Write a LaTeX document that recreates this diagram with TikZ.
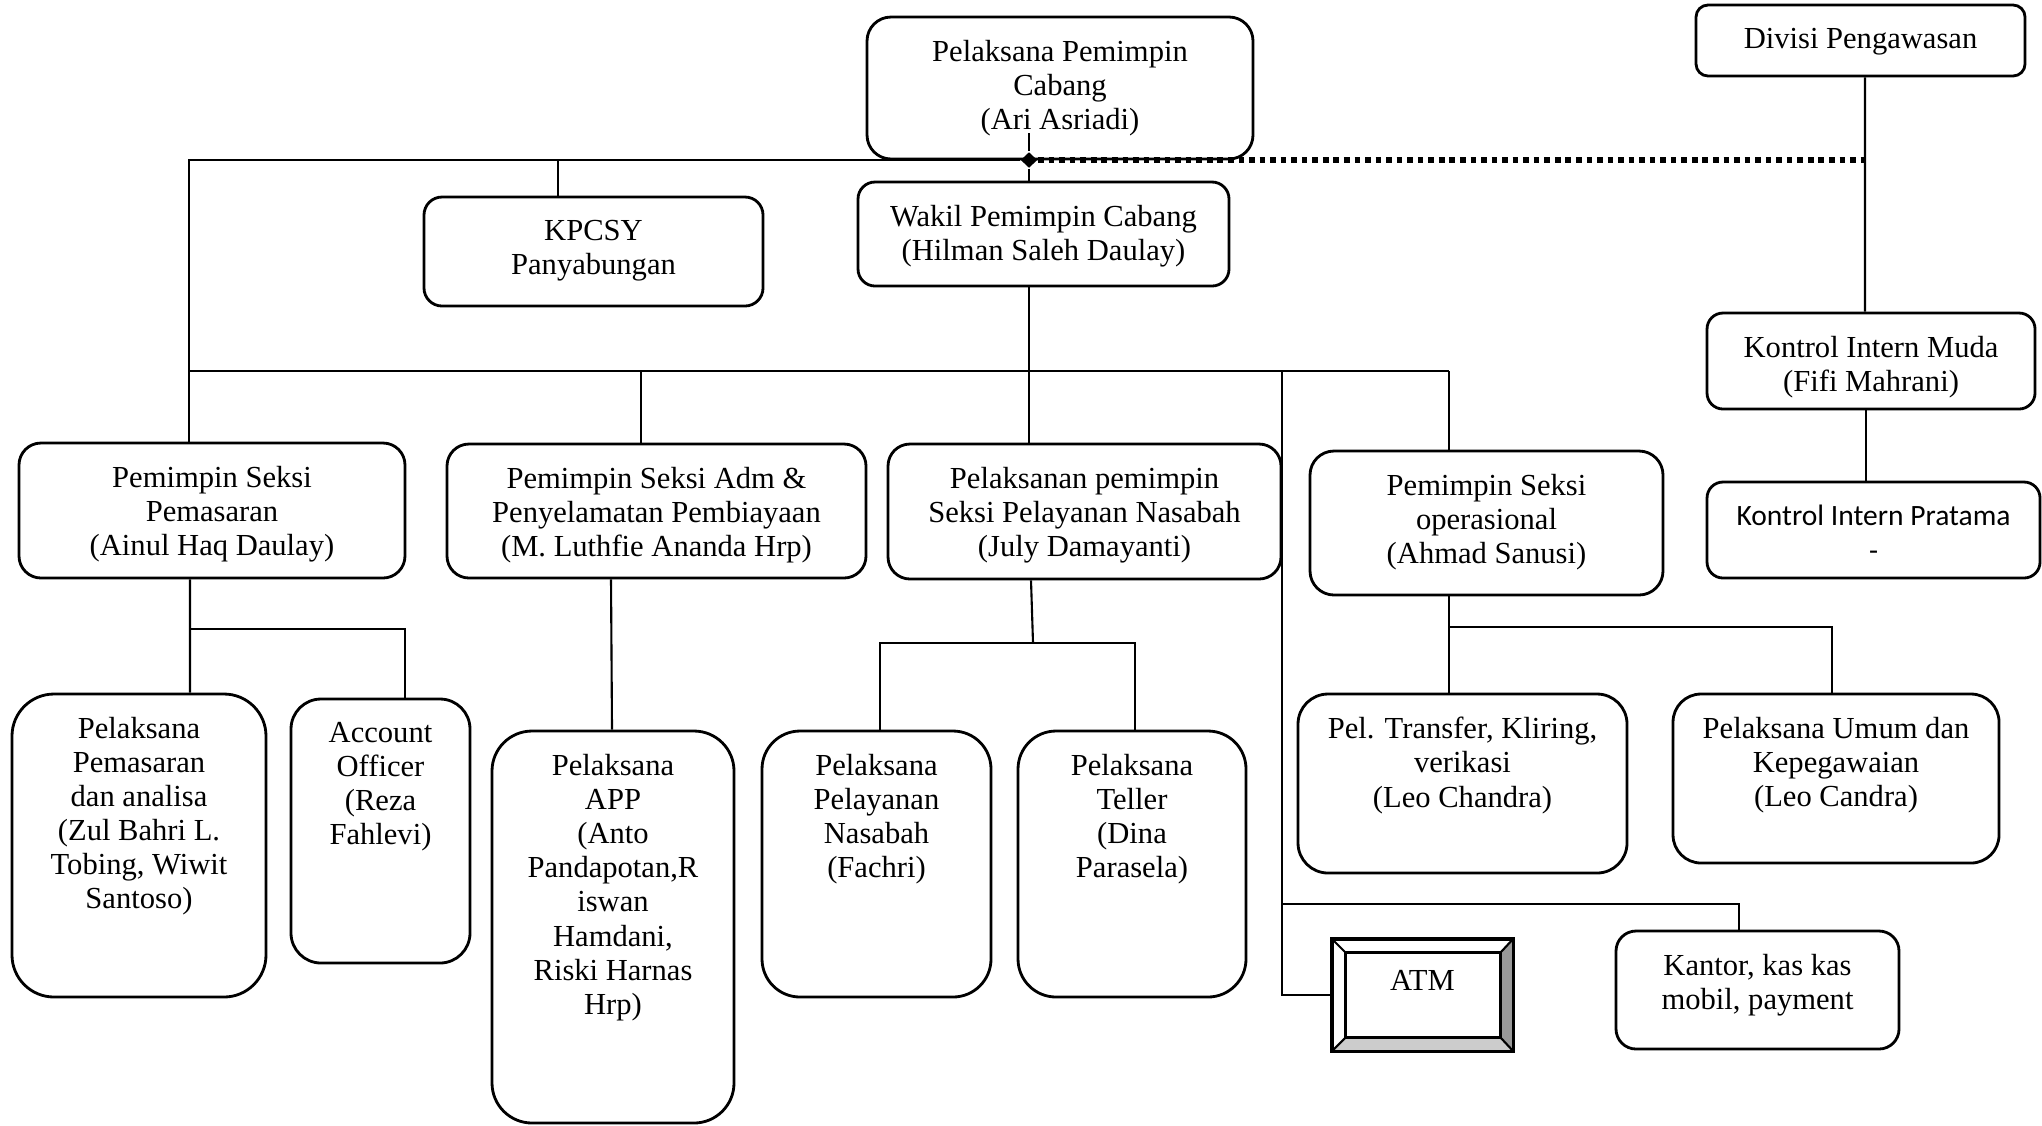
\documentclass[tikz,border=0pt]{standalone}
\usepackage{fontspec}
\setmainfont{Liberation Serif}
\newfontfamily\calfont{Carlito}
\usepackage{tikz}
\usetikzlibrary{shapes.geometric}

\tikzset{
  box/.style={draw, line width=0.8pt, inner sep=0pt, rounded corners=#1},
  box/.default=0.22cm,
  lbl/.style={anchor=north, yshift=-0.24cm, align=center, inner sep=0pt, font=\fontsize{8.7}{9.7}\selectfont},
  conn/.style={line width=0.6pt},
  dotline/.style={line width=1.5pt, dash pattern=on 1.6pt off 1.4pt}
}

\begin{document}
\begin{tikzpicture}
\useasboundingbox (0,0) rectangle (20.42,-11.25);
% top tier
\node[box=0.24cm, minimum width=3.86cm, minimum height=1.42cm, label={[lbl,name=topT]north:Pelaksana Pemimpin\\Cabang\\(Ari Asriadi)}] (top) at (10.60,-0.88) {};
\node[box=0.12cm, minimum width=3.29cm, minimum height=0.71cm, label={[lbl,name=divT]north:Divisi Pengawasan}] (div) at (18.605,-0.405) {};
\node[box=0.18cm, minimum width=3.39cm, minimum height=1.09cm, label={[lbl,name=kpT]north:KPCSY\\Panyabungan}] (kp) at (5.935,-2.515) {};
\node[box=0.17cm, minimum width=3.71cm, minimum height=1.04cm, label={[lbl,name=wakT]north:Wakil Pemimpin Cabang\\(Hilman Saleh Daulay)}] (wak) at (10.435,-2.34) {};
\node[box=0.16cm, minimum width=3.28cm, minimum height=0.96cm, label={[lbl,name=mudaT]north:Kontrol Intern Muda\\(Fifi Mahrani)}] (muda) at (18.71,-3.61) {};
\node[box=0.16cm, minimum width=3.33cm, minimum height=0.96cm, label={[lbl,name=praT,font=\calfont\fontsize{8.4}{10}\selectfont]north:Kontrol Intern Pratama\\-}] (pra) at (18.735,-5.30) {};
% seksi
\node[box, minimum width=3.86cm, minimum height=1.35cm, label={[lbl,name=pemT]north:Pemimpin Seksi\\Pemasaran\\(Ainul Haq Daulay)}] (pem) at (2.12,-5.105) {};
\node[box, minimum width=4.19cm, minimum height=1.34cm, label={[lbl,name=admT]north:Pemimpin Seksi Adm \&\\Penyelamatan Pembiayaan\\(M. Luthfie Ananda Hrp)}] (adm) at (6.565,-5.11) {};
\node[box, minimum width=3.93cm, minimum height=1.35cm, label={[lbl,name=plnT]north:Pelaksanan pemimpin\\Seksi Pelayanan Nasabah\\(July Damayanti)}] (pln) at (10.845,-5.115) {};
\node[box=0.24cm, minimum width=3.53cm, minimum height=1.44cm, label={[lbl,name=opsT]north:Pemimpin Seksi\\operasional\\(Ahmad Sanusi)}] (ops) at (14.865,-5.23) {};
% pelaksana
\node[box=0.42cm, minimum width=2.54cm, minimum height=3.03cm, label={[lbl,name=pelpemT]north:Pelaksana\\Pemasaran\\dan analisa\\(Zul Bahri L.\\Tobing, Wiwit\\Santoso)}] (pelpem) at (1.39,-8.455) {};
\node[box=0.30cm, minimum width=1.79cm, minimum height=2.64cm, label={[lbl,name=aoT]north:Account\\Officer\\(Reza\\Fahlevi)}] (ao) at (3.805,-8.31) {};
\node[box=0.40cm, minimum width=2.42cm, minimum height=3.92cm, label={[lbl,name=appT]north:Pelaksana\\APP\\(Anto\\Pandapotan,R\\iswan\\Hamdani,\\Riski Harnas\\Hrp)}] (app) at (6.13,-9.27) {};
\node[box=0.38cm, minimum width=2.29cm, minimum height=2.66cm, label={[lbl,name=pelT]north:Pelaksana\\Pelayanan\\Nasabah\\(Fachri)}] (pel) at (8.765,-8.64) {};
\node[box=0.38cm, minimum width=2.28cm, minimum height=2.66cm, label={[lbl,name=telT]north:Pelaksana\\Teller\\(Dina\\Parasela)}] (tel) at (11.32,-8.64) {};
\node[box=0.30cm, minimum width=3.29cm, minimum height=1.79cm, label={[lbl,name=trfT]north:Pel. Transfer, Kliring,\\verikasi\\(Leo Chandra)}] (trf) at (14.625,-7.835) {};
\node[box=0.28cm, minimum width=3.26cm, minimum height=1.69cm, label={[lbl,name=umumT]north:Pelaksana Umum dan\\Kepegawaian\\(Leo Candra)}] (umum) at (18.36,-7.785) {};
\node[box=0.20cm, minimum width=2.83cm, minimum height=1.18cm, label={[lbl,name=kanT]north:Kantor, kas kas\\mobil, payment}] (kan) at (17.575,-9.90) {};
% ATM
\node[draw, line width=0.8pt, inner sep=0pt, minimum width=1.79cm, minimum height=1.10cm] (atm) at (14.225,-9.95) {};
\fill[black!40] (atm.north east) -- (atm.south east) -- ([shift={(-0.13,0.14)}]atm.south east) -- ([shift={(-0.13,-0.14)}]atm.north east) -- cycle;
\fill[black!20] (atm.south west) -- (atm.south east) -- ([shift={(-0.13,0.14)}]atm.south east) -- ([shift={(0.14,0.14)}]atm.south west) -- cycle;
\draw[line width=0.8pt] (atm.north west) rectangle (atm.south east);
\draw[line width=0.7pt] ([shift={(0.14,-0.14)}]atm.north west) rectangle ([shift={(-0.13,0.14)}]atm.south east);
\draw[line width=0.6pt] (atm.north west) -- ++(0.14,-0.14) (atm.north east) -- ++(-0.13,-0.14)
  (atm.south west) -- ++(0.14,0.14) (atm.south east) -- ++(-0.13,0.14);
\node[lbl] (atmT) at ([yshift=-0.07cm]atm.north) {ATM};
% lines
\node[diamond, fill, inner sep=0pt, minimum width=0.17cm, minimum height=0.16cm] (jn) at (10.29,-1.60) {};
\coordinate (topin) at (10.29,-1.33);
\coordinate (busL) at (1.89,-3.71);
\coordinate (busR) at (14.49,-3.71);
\coordinate (atmtop) at (12.82,-3.71);
\coordinate (kanfork) at (12.82,-9.04);
\coordinate (pemfork) at (1.90,-6.29);
\coordinate (plnfork) at (10.33,-6.43);
\coordinate (opsfork) at (14.49,-6.27);
\draw[conn] (topin) -- (jn) -- (jn |- wak.north);
\draw[conn] (jn) -| ([xshift=-0.23cm]pem.north);
\draw[conn] ([xshift=-0.355cm]kp.north) -- ([xshift=-0.355cm]kp.north |- jn);
\draw[dotline] (jn) -- ([xshift=0.045cm]div.south |- jn);
\draw[conn] (jn |- wak.south) -- (jn |- pln.north);
\draw[conn] (busL) -- (busR);
\draw[conn] ([xshift=-0.155cm]adm.north) -- ([xshift=-0.155cm]adm.north |- busL);
\draw[conn] (busR) -- (busR |- ops.north);
\draw[conn] (atmtop) |- (atm.west);
\draw[conn] (kanfork) -| ([xshift=-0.185cm]kan.north);
\draw[conn] ([xshift=-0.22cm]pem.south) -- ([xshift=0.51cm]pelpem.north);
\draw[conn] (pemfork) -| ([xshift=0.245cm]ao.north);
\draw[conn] ([xshift=-0.455cm]adm.south) -- ([xshift=-0.01cm]app.north);
\draw[conn] ([xshift=-0.535cm]pln.south) -- (plnfork);
\draw[conn] ([xshift=0.035cm]pel.north) |- (plnfork) -| ([xshift=0.03cm]tel.north);
\draw[conn] ([xshift=-0.375cm]ops.south) -- ([xshift=-0.135cm]trf.north);
\draw[conn] (opsfork) -| ([xshift=-0.04cm]umum.north);
\draw[conn] ([xshift=0.045cm]div.south) -- ([xshift=-0.06cm]muda.north);
\draw[conn] ([xshift=-0.05cm]muda.south) -- ([xshift=-0.075cm]pra.north);
\end{tikzpicture}
\end{document}
